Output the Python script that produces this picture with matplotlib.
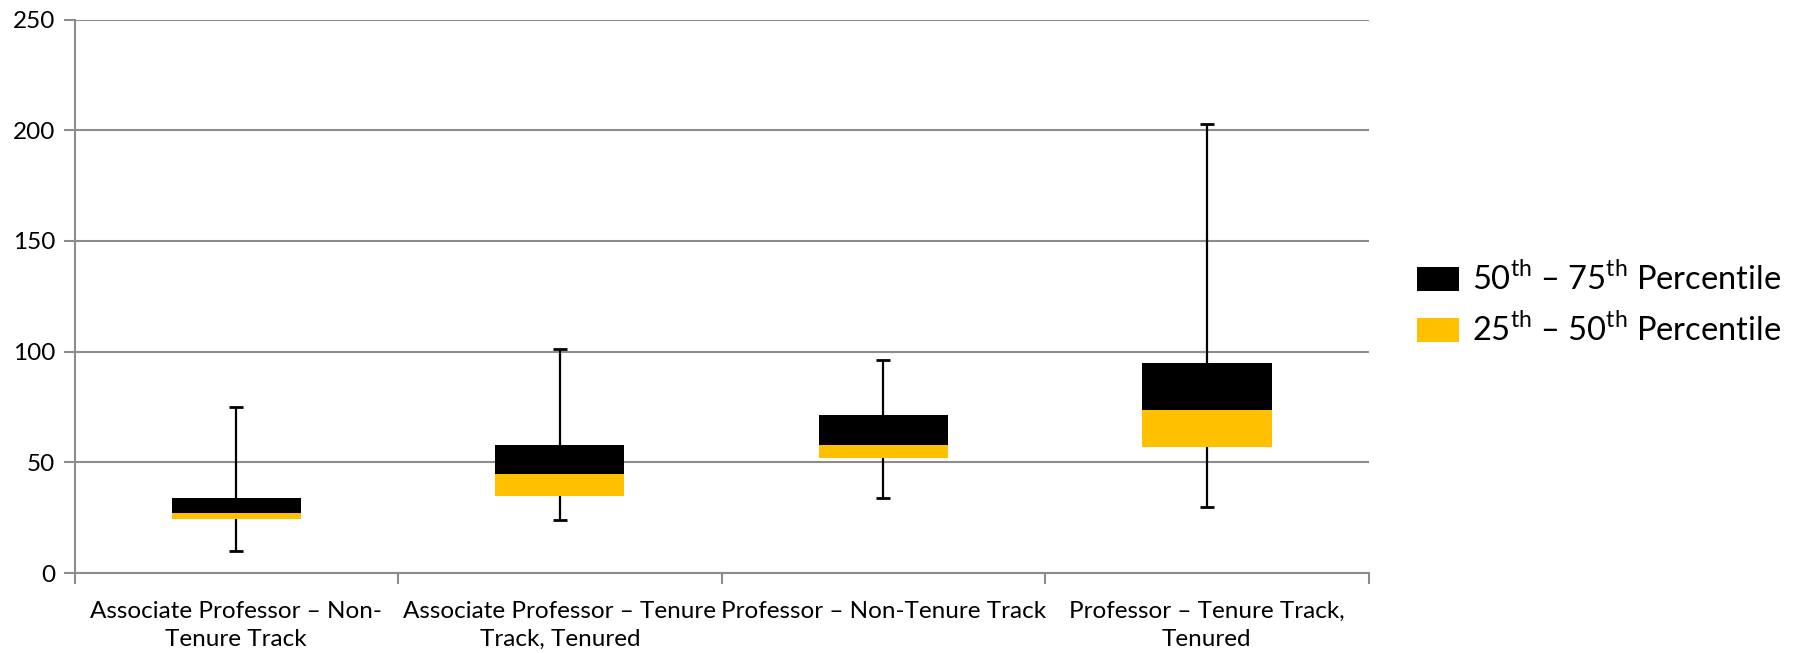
import matplotlib.pyplot as plt
import numpy as np
from matplotlib.patches import Patch

plt.rcParams['font.family'] = ['Lato', 'DejaVu Sans']
plt.rcParams['mathtext.fontset'] = 'custom'
plt.rcParams['mathtext.rm'] = 'Lato'

categories = ['Associate Professor \u2013 Non-\nTenure Track',
              'Associate Professor \u2013 Tenure\nTrack, Tenured',
              'Professor \u2013 Non-Tenure Track',
              'Professor \u2013 Tenure Track,\nTenured']
low = [10, 24, 34, 30]
q1 = [24.3, 35, 52, 56.7]
median = [27, 44.7, 58, 73.5]
q3 = [34, 57.8, 71.6, 95]
high = [75, 101, 96, 203]

gold = '#FFC000'
grey = '#8C8C8C'

x = np.arange(len(categories))
lower_part = np.array(median) - np.array(q1)
upper_part = np.array(q3) - np.array(median)

fig = plt.figure(figsize=(17.96, 6.53), dpi=100)
ax = fig.add_axes([0.0415, 0.1225, 0.7205, 0.8475])

# whiskers behind the boxes
ax.vlines(x, low, high, color='black', lw=1.6, zorder=2)
cap = 0.022
ax.hlines(low, x - cap, x + cap, color='black', lw=2, zorder=2)
ax.hlines(high, x - cap, x + cap, color='black', lw=2, zorder=2)

ax.bar(x, lower_part, bottom=q1, width=0.4, color=gold, zorder=3)
ax.bar(x, upper_part, bottom=median, width=0.4, color='black', zorder=3)

ax.set_xlim(-0.5, len(categories) - 0.5)
ax.set_ylim(0, 250)
ax.set_yticks(np.arange(0, 251, 50))
ax.yaxis.grid(True, color=grey, lw=1.5, zorder=0)
ax.set_axisbelow(True)

ax.set_xticks(x)
ax.set_xticklabels(categories, fontsize=17.5, linespacing=1.42)
ax.set_xticks(np.arange(-0.5, len(categories), 1), minor=True)
ax.tick_params(axis='x', which='major', length=0, pad=20)
ax.tick_params(axis='x', which='minor', length=8, color=grey, width=1.5)
ax.tick_params(axis='y', length=8, color=grey, width=1.5, labelsize=17.5, pad=6)

for s in ['top', 'right']:
    ax.spines[s].set_visible(False)
ax.spines['left'].set_color(grey)
ax.spines['bottom'].set_color(grey)
ax.spines['left'].set_linewidth(1.5)
ax.spines['bottom'].set_linewidth(1.5)

handles = [Patch(facecolor='black', edgecolor='none'),
           Patch(facecolor=gold, edgecolor='none')]
labels = ['50$^{\\mathrm{th}}$ \u2013 75$^{\\mathrm{th}}$ Percentile',
          '25$^{\\mathrm{th}}$ \u2013 50$^{\\mathrm{th}}$ Percentile']
fig.legend(handles, labels, loc='center left', bbox_to_anchor=(0.7815, 0.534),
           frameon=False, fontsize=23.5, handlelength=1.3, handleheight=0.75,
           handletextpad=0.4, labelspacing=0.5, borderaxespad=0)

fig.savefig('out.png', dpi=100)
